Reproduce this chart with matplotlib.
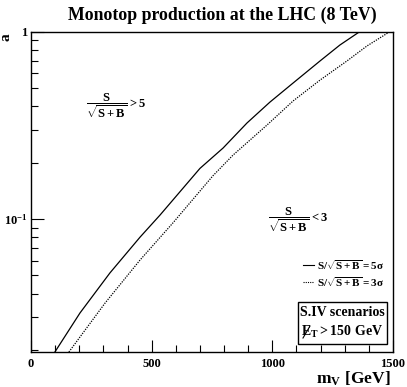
import matplotlib
matplotlib.use("Agg")
import matplotlib.pyplot as plt
from matplotlib.ticker import FixedLocator, FixedFormatter, MultipleLocator, NullFormatter
import numpy as np

plt.rcParams['font.family'] = ['Liberation Serif', 'DejaVu Serif']
plt.rcParams['font.weight'] = 'bold'
plt.rcParams['mathtext.fontset'] = 'custom'
plt.rcParams['mathtext.rm'] = 'Liberation Serif:bold'
plt.rcParams['mathtext.it'] = 'Liberation Serif:bold'
plt.rcParams['mathtext.bf'] = 'Liberation Serif:bold'
plt.rcParams['mathtext.default'] = 'bf'

# data: 5 sigma (solid) and 3 sigma (dotted) contours
m_5sigma = [99, 203, 327, 452, 535, 700, 796, 895, 990, 1086, 1198, 1280, 1363]
a_5sigma = [0.0195, 0.0315, 0.0515, 0.080, 0.105, 0.186, 0.239, 0.325, 0.420, 0.531, 0.697, 0.847, 1.0]
m_3sigma = [157, 307, 452, 588, 754, 837, 978, 1086, 1198, 1309, 1392, 1488]
a_3sigma = [0.0195, 0.0356, 0.0604, 0.0952, 0.170, 0.219, 0.317, 0.426, 0.551, 0.696, 0.837, 1.0]

x_ticks = [0, 500, 1000, 1500]
x_ticklabels = ["0", "500", "1000", "1500"]
y_ticks = [0.1, 1.0]
y_ticklabels = [r"$10^{-1}$", "1"]

W, H = 407, 387
fig = plt.figure(figsize=(W/100, H/100), dpi=100)
ax = fig.add_axes([31/W, (H-352)/H, (393-31)/W, (352-31.5)/H])
ax.set_yscale('log')
ax.set_xlim(0, 1500)
ax.set_ylim(0.0195, 1.0)

ax.plot(m_5sigma, a_5sigma, color='black', lw=0.9, solid_joinstyle='round')
ax.plot(m_3sigma, a_3sigma, color='black', lw=0.9, linestyle=(0, (1, 1)))

for s in ax.spines.values():
    s.set_linewidth(1.0)

ax.xaxis.set_major_locator(FixedLocator(x_ticks))
ax.xaxis.set_major_formatter(FixedFormatter(x_ticklabels))
ax.xaxis.set_minor_locator(MultipleLocator(100))
ax.yaxis.set_major_locator(FixedLocator(y_ticks))
ax.yaxis.set_major_formatter(FixedFormatter(y_ticklabels))
ax.yaxis.set_minor_locator(FixedLocator([0.02,0.03,0.04,0.05,0.06,0.07,0.08,0.09,0.2,0.3,0.4,0.5,0.6,0.7,0.8,0.9]))
ax.yaxis.set_minor_formatter(NullFormatter())
ax.tick_params(which='both', direction='in', top=False, right=False, width=0.8, labelsize=9)
ax.tick_params(which='major', length=9)
ax.tick_params(which='minor', length=5)
ax.tick_params(axis='x', which='major', pad=4)
ax.tick_params(axis='y', which='major', pad=2.5)
for lab in ax.get_xticklabels() + ax.get_yticklabels():
    lab.set_fontweight('bold')

fig.text(222/W, 1-15/H, "Monotop production at the LHC (8 TeV)", ha='center', va='center',
         fontsize=12.8, fontweight='bold')
fig.text(6/W, 1-37/H, "a", ha='center', va='center', rotation=90, fontsize=11, fontweight='bold')
fig.text(391/W, 1-379/H, r"$\mathbf{m_V\ [GeV]}$", ha='right', va='center', fontsize=12.5)

fig.text(86/W, 1-106/H, r"$\mathbf{\dfrac{S}{\sqrt{S+B}} > 5}$", ha='left', va='center', fontsize=9)
fig.text(268/W, 1-220/H, r"$\mathbf{\dfrac{S}{\sqrt{S+B}} < 3}$", ha='left', va='center', fontsize=9)

# legend entries
fig.add_artist(plt.Line2D([303/W, 314/W], [1-265/H, 1-265/H], color='black', lw=0.8))
fig.add_artist(plt.Line2D([303/W, 314/W], [1-282/H, 1-282/H], color='black', lw=0.8, linestyle=(0, (1, 1))))
fig.text(317/W, 1-265/H, r"$\mathbf{S/\sqrt{S+B} = 5}$σ", ha='left', va='center', fontsize=8)
fig.text(317/W, 1-282/H, r"$\mathbf{S/\sqrt{S+B} = 3}$σ", ha='left', va='center', fontsize=8)

# box
fig.add_artist(plt.Rectangle((298/W, 1-344/H), 89/W, 42/H, fill=False, edgecolor='black', lw=1.0))
fig.text(342.5/W, 1-313/H, "S.IV scenarios", ha='center', va='center', fontsize=10, fontweight='bold')
fig.text(342.5/W, 1-332/H, r"$\mathbf{E_T > 150\ GeV}$", ha='center', va='center', fontsize=10)
fig.add_artist(plt.Line2D([303/W, 310/W], [1-338/H, 1-326/H], color='black', lw=0.8))

fig.savefig("out.png", dpi=100)
